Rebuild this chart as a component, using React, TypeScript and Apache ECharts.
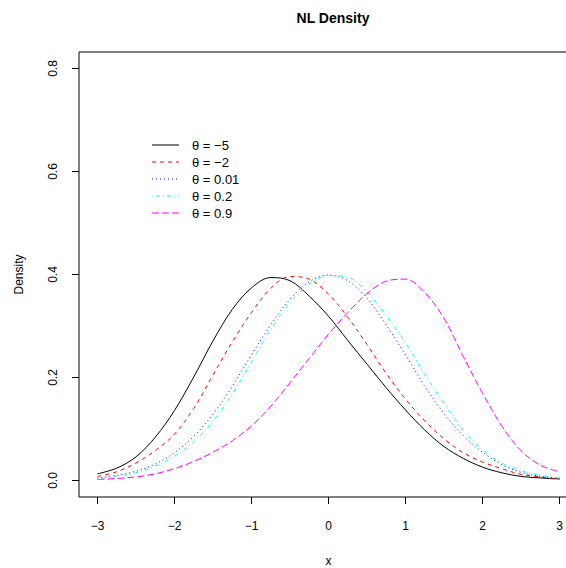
import React, { useEffect, useRef } from "react";
import * as echarts from "echarts";

const xs = [-3, -2.75, -2.5, -2.25, -2, -1.75, -1.5, -1.25, -1, -0.75, -0.5, -0.25, 0, 0.25, 0.5, 0.75, 1, 1.25, 1.5, 1.75, 2, 2.25, 2.5, 2.75, 3];

const thetaM5 = [0.013, 0.024, 0.046, 0.084, 0.136, 0.201, 0.271, 0.332, 0.374, 0.394, 0.388, 0.358, 0.319, 0.272, 0.226, 0.180, 0.137, 0.098, 0.066, 0.043, 0.026, 0.015, 0.008, 0.005, 0.003];
const thetaM2 = [0.008, 0.017, 0.034, 0.058, 0.090, 0.140, 0.205, 0.269, 0.326, 0.373, 0.396, 0.391, 0.362, 0.317, 0.264, 0.208, 0.158, 0.116, 0.081, 0.054, 0.036, 0.023, 0.012, 0.007, 0.003];
const theta001 = [0.005, 0.010, 0.018, 0.032, 0.054, 0.086, 0.129, 0.183, 0.244, 0.302, 0.352, 0.386, 0.399, 0.388, 0.354, 0.302, 0.244, 0.183, 0.130, 0.087, 0.055, 0.031, 0.016, 0.008, 0.005];
const theta02 = [0.004, 0.008, 0.015, 0.028, 0.047, 0.075, 0.115, 0.168, 0.230, 0.293, 0.345, 0.381, 0.398, 0.395, 0.366, 0.320, 0.268, 0.206, 0.150, 0.098, 0.060, 0.034, 0.019, 0.010, 0.005];
const theta09 = [0.002, 0.004, 0.007, 0.013, 0.023, 0.037, 0.055, 0.077, 0.106, 0.144, 0.190, 0.237, 0.284, 0.326, 0.363, 0.387, 0.391, 0.365, 0.315, 0.241, 0.170, 0.106, 0.058, 0.030, 0.017];

const seriesNames = ["θ = −5", "θ = −2", "θ = 0.01", "θ = 0.2", "θ = 0.9"];
const seriesColors = ["#000000", "#FF0000", "#0000FF", "#00FFFF", "#FF00FF"];
const seriesDash: any[] = [null, [4, 4], [1, 3], [1, 3, 4, 3], [7, 3]];
const seriesValues = [thetaM5, thetaM2, theta001, theta02, theta09];

const xTicks = [-3, -2, -1, 0, 1, 2, 3];
const yTicks = [0, 0.2, 0.4, 0.6, 0.8];

const FONT = "Liberation Sans, Arial, Helvetica, sans-serif";

function fmtX(v: number) {
  return v < 0 ? "\u2212" + Math.abs(v) : String(v);
}

export default function App() {
  const ref = useRef<HTMLDivElement>(null);
  useEffect(() => {
    if (!ref.current) return;
    const chart = echarts.init(ref.current, undefined, { renderer: "svg" });
    const legendGraphics: any[] = [];
    seriesNames.forEach((n, i) => {
      const y = 145 + 17 * i;
      legendGraphics.push({
        type: "line",
        shape: { x1: 152, y1: y, x2: 179, y2: y },
        style: { stroke: seriesColors[i], lineWidth: 1, lineDash: seriesDash[i] || null },
      });
      legendGraphics.push({
        type: "text",
        x: 192,
        y: y,
        style: {
          text: n,
          fill: "#000",
          font: "13px " + FONT,
          textVerticalAlign: "middle",
          verticalAlign: "middle",
        },
      });
    });
    chart.setOption({
      animation: false,
      backgroundColor: "#ffffff",
      title: {
        text: "NL Density",
        left: 328,
        top: 6,
        textAlign: "center",
        textStyle: { fontFamily: FONT, fontSize: 14, fontWeight: "bold", color: "#000" },
      },
      graphic: legendGraphics,
      grid: {
        left: 79,
        top: 52,
        width: 499,
        height: 445,
        show: true,
        borderColor: "#000",
        borderWidth: 1,
        backgroundColor: "transparent",
        containLabel: false,
        outerBoundsMode: "none",
      },
      xAxis: {
        type: "value",
        min: -3.24,
        max: 3.24,
        name: "x",
        nameLocation: "middle",
        nameGap: 58,
        nameTextStyle: { fontFamily: FONT, fontSize: 12, color: "#000" },
        axisLine: { show: false, onZero: false },
        axisTick: { show: true, length: 7, customValues: xTicks, lineStyle: { color: "#000" } },
        axisLabel: {
          customValues: xTicks,
          margin: 23,
          fontFamily: FONT,
          fontSize: 12,
          color: "#000",
          formatter: (v: number) => fmtX(v),
        },
        splitLine: { show: false },
      },
      yAxis: {
        type: "value",
        min: -0.032,
        max: 0.832,
        name: "Density",
        nameLocation: "middle",
        nameGap: 54,
        nameTextStyle: { fontFamily: FONT, fontSize: 12, color: "#000" },
        axisLine: { show: false, onZero: false },
        axisTick: { show: true, length: 7, customValues: yTicks, lineStyle: { color: "#000" } },
        axisLabel: {
          customValues: yTicks,
          rotate: 90,
          margin: 20,
          fontFamily: FONT,
          fontSize: 12,
          color: "#000",
          formatter: (v: number) => v.toFixed(1),
        },
        splitLine: { show: false },
      },
      series: seriesValues.map((vals, i) => ({
        name: seriesNames[i],
        type: "line",
        data: xs.map((x, j) => [x, vals[j]]),
        smooth: 0.35,
        symbol: "none",
        showSymbol: false,
        lineStyle: { color: seriesColors[i], width: 1, type: seriesDash[i] || "solid" },
        itemStyle: { color: seriesColors[i] },
      })),
    });
    return () => chart.dispose();
  }, []);
  return <div ref={ref} style={{ position: "fixed", left: 0, top: 0, width: 566, height: 568 }} />;
}
